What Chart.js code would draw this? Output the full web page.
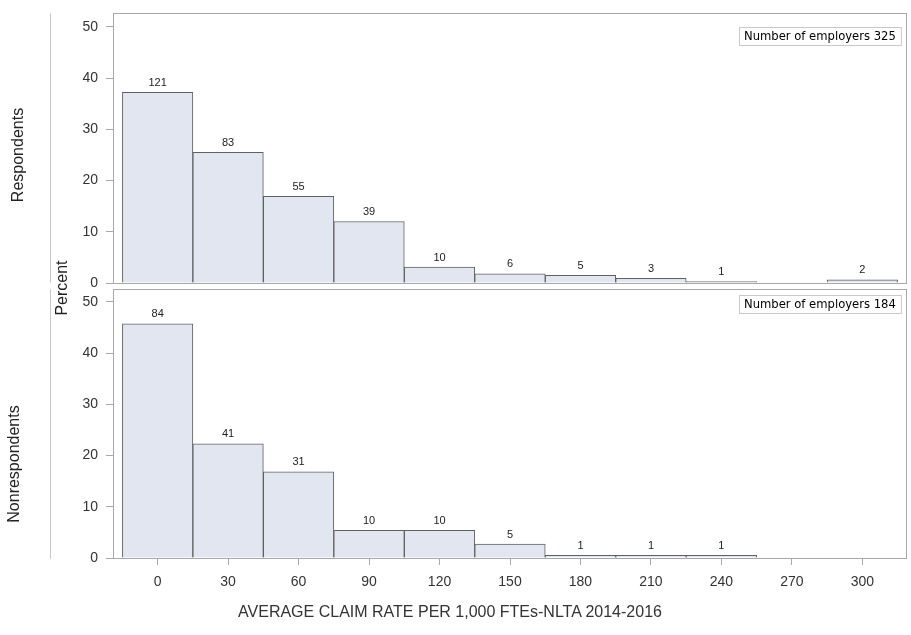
<!DOCTYPE html>
<html>
<head>
<meta charset="utf-8">
<script src="https://cdn.jsdelivr.net/npm/chart.js@4.4.0/dist/chart.umd.min.js"></script>
<style>
  body { margin: 0; background: #fff; font-family: "Liberation Sans", Arial, sans-serif; }
  #wrap { position: relative; width: 911px; height: 635px; overflow: hidden; }
  .panel { position: absolute; left: 0; width: 911px; }
  .rot { position: absolute; white-space: nowrap; color: #222; transform: translate(-50%, -50%) rotate(-90deg); }
  .sep { position: absolute; left: 50px; width: 1px; background: #c8c8c8; }
  #xtitle { position: absolute; left: 450px; top: 612px; transform: translate(-50%, -50%); font-size: 16px; color: #333; white-space: nowrap; }
</style>
</head>
<body>
<div id="wrap">
  <div class="panel" style="top:0;height:290px"><canvas id="grafTop"></canvas></div>
  <div class="panel" style="top:285px;height:350px"><canvas id="grafBottom"></canvas></div>
  <div class="sep" style="top:13px;height:270px"></div>
  <div class="sep" style="top:289px;height:270px"></div>
  <div class="rot" style="left:18px;top:155px;font-size:16px">Respondents</div>
  <div class="rot" style="left:14px;top:464px;font-size:16px">Nonrespondents</div>
  <div class="rot" style="left:62px;top:288px;font-size:16px">Percent</div>
  <div id="xtitle">AVERAGE CLAIM RATE PER 1,000 FTEs-NLTA 2014-2016</div>
</div>
<script>
// datos
const bins = [0, 30, 60, 90, 120, 150, 180, 210, 240, 270, 300];
const respPct = [37.2, 25.5, 16.9, 12.0, 3.1, 1.8, 1.5, 0.9, 0.3, 0, 0.6];
const respCounts = ["121", "83", "55", "39", "10", "6", "5", "3", "1", "", "2"];
const nonPct = [45.7, 22.3, 16.8, 5.4, 5.4, 2.7, 0.5, 0.5, 0.5, 0, 0];
const nonCounts = ["84", "41", "31", "10", "10", "5", "1", "1", "1", "", ""];
const yTicks = [0, 10, 20, 30, 40, 50];
const insetText = ["Number of employers 325", "Number of employers 184"];

const fontFam = '"Liberation Sans", Arial, sans-serif';

// marco, etiquetas y recuadro
const extras = {
  id: "extras",
  afterDatasetsDraw(chart, args, opts) {
    const ctx = chart.ctx;
    const a = chart.chartArea;
    const meta = chart.getDatasetMeta(0);
    ctx.save();
    ctx.font = "11px " + fontFam;
    ctx.fillStyle = "#222";
    ctx.textAlign = "center";
    ctx.textBaseline = "bottom";
    meta.data.forEach((el, i) => {
      if (opts.counts[i]) ctx.fillText(opts.counts[i], el.x, el.y - 4);
    });
    // frame
    ctx.strokeStyle = "#a8a8a8";
    ctx.lineWidth = 1;
    ctx.strokeRect(a.left + 0.5, a.top + 0.5, a.right - a.left - 1, a.bottom - a.top);
    // inset box
    ctx.font = '11.6px "DejaVu Sans", sans-serif';
    const w = ctx.measureText(opts.inset).width + 10;
    const bx = Math.round(a.right - 6 - w), by = a.top + opts.insetTop;
    ctx.fillStyle = "#fff";
    ctx.fillRect(bx, by, w, 18);
    ctx.strokeStyle = "#c8c8c8";
    ctx.strokeRect(bx + 0.5, by + 0.5, w, 18);
    ctx.fillStyle = "#000";
    ctx.textAlign = "left";
    ctx.textBaseline = "middle";
    ctx.fillText(opts.inset, bx + 5, by + 10);
    ctx.restore();
  }
};

function crearGrafica(id, pct, counts, inset, insetTop, yMax, padTop, showX) {
  return new Chart(document.getElementById(id), {
    type: "bar",
    data: {
      datasets: [{
        data: bins.map((b, i) => ({ x: b, y: pct[i] })),
        backgroundColor: "#e2e6f0",
        borderColor: "#606060",
        borderWidth: 1,
        barPercentage: 1,
        categoryPercentage: 1
      }]
    },
    plugins: [extras],
    options: {
      responsive: true,
      maintainAspectRatio: false,
      animation: false,
      layout: { padding: { top: padTop, right: 4, bottom: showX ? 0 : 7, left: 0 } },
      plugins: {
        legend: { display: false },
        tooltip: { enabled: false },
        extras: { counts: counts, inset: inset, insetTop: insetTop }
      },
      scales: {
        x: {
          type: "linear",
          display: showX,
          offset: false,
          min: -19,
          max: 319,
          afterBuildTicks: s => { s.ticks = bins.map(v => ({ value: v })); },
          afterFit: s => { s.height = showX ? 77 : 0; s.paddingLeft = 0; s.paddingRight = 0; },
          grid: { offset: false, drawOnChartArea: false, drawTicks: true, tickLength: 7, color: "#a8a8a8" },
          border: { display: false },
          ticks: { padding: 9, color: "#333", font: { size: 14, family: fontFam }, maxRotation: 0 }
        },
        y: {
          min: 0,
          max: yMax,
          afterBuildTicks: s => { s.ticks = yTicks.map(v => ({ value: v })); },
          afterFit: s => { s.width = 113; s.paddingTop = 0; s.paddingBottom = 0; },
          grid: { drawOnChartArea: false, drawTicks: true, tickLength: 7, color: "#a8a8a8" },
          border: { display: false },
          ticks: { padding: 8, color: "#333", font: { size: 14, family: fontFam } }
        }
      }
    }
  });
}

crearGrafica("grafTop", respPct, respCounts, insetText[0], 14, 52.7, 13, false);
crearGrafica("grafBottom", nonPct, nonCounts, insetText[1], 6, 52.5, 4, true);
</script>
</body>
</html>
